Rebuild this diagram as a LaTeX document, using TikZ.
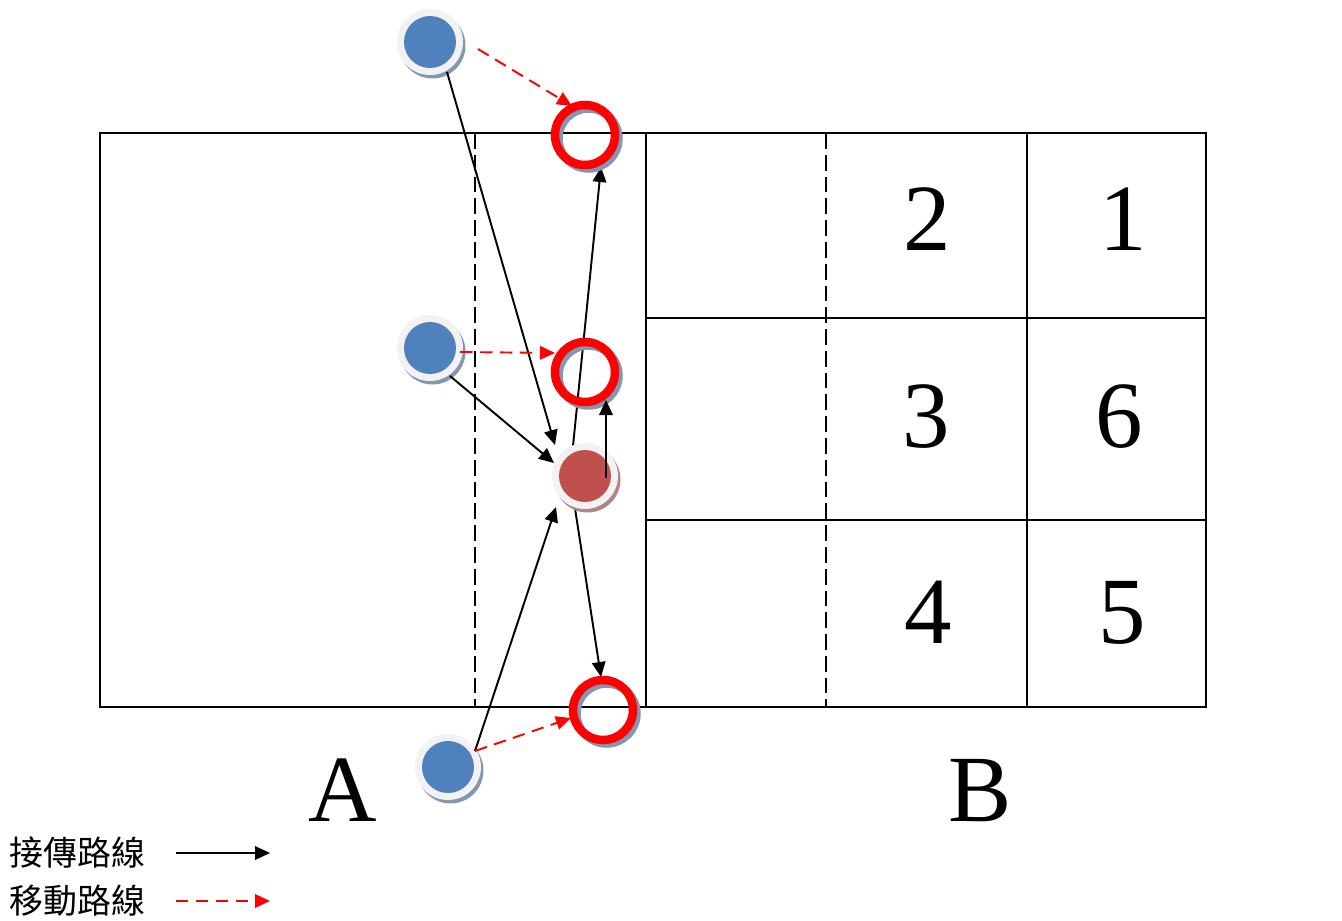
\documentclass[tikz,border=0pt]{standalone}
\usepackage{fontspec}
\setmainfont{Liberation Serif}
\newfontfamily\cjk{Noto Sans CJK TC}
\usetikzlibrary{arrows.meta,shadows,backgrounds}
\definecolor{playerblue}{RGB}{79,129,189}
\definecolor{playerred}{RGB}{192,80,77}
\definecolor{ringgray}{RGB}{242,242,242}
\definecolor{shadowblue}{RGB}{132,151,176}
\definecolor{shadowred}{RGB}{176,134,133}
\definecolor{ringred}{RGB}{255,0,0}
\tikzset{
  court/.style={line width=1.1pt, black},
  courtdash/.style={line width=1.1pt, black, dash pattern=on 9pt off 3.4pt},
  blueplayer/.style={circle, inner sep=0pt, outer sep=0pt, minimum size=1.32cm, fill=ringgray,
    drop shadow={shadow xshift=0.05cm, shadow yshift=-0.07cm, fill=shadowblue, opacity=1},
    path picture={\fill[playerblue] (path picture bounding box.center) circle (0.52cm);}},
  redplayer/.style={circle, inner sep=0pt, outer sep=0pt, minimum size=1.32cm, fill=ringgray,
    drop shadow={shadow xshift=0.05cm, shadow yshift=-0.07cm, fill=shadowred, opacity=1},
    path picture={\fill[playerred] (path picture bounding box.center) circle (0.52cm);}},
  target/.style={circle, inner sep=0pt, minimum size=1.2cm, draw=ringred, line width=0.17cm,
    general shadow={shadow xshift=0.07cm, shadow yshift=-0.07cm, draw=shadowblue, fill=none, line width=0.17cm, opacity=1}},
  pass/.style={-{Triangle[length=0.3cm,width=0.27cm]}, line width=1.1pt, black},
  move/.style={-{Triangle[length=0.3cm,width=0.27cm]}, line width=1.1pt, ringred, dash pattern=on 0.25cm off 0.15cm},
  num/.style={font=\fontsize{54}{60}\selectfont, anchor=base, inner sep=0pt},
  legend/.style={font=\cjk\fontsize{19.3}{23}\selectfont, anchor=west, inner sep=0pt},
}
\begin{document}
\begin{tikzpicture}[x=0.02cm,y=-0.02cm]
\useasboundingbox (0,0) rectangle (1342,920);
% court
\begin{pgfonlayer}{background}
\draw[court] (100,133) rectangle (1206,707);
\draw[court] (646,133) -- (646,707);
\draw[court] (1027,133) -- (1027,707);
\draw[court] (646,318) -- (1206,318);
\draw[court] (646,520) -- (1206,520);
\draw[courtdash] (475,133) -- (475,707);
\draw[courtdash] (826,133) -- (826,707);
\end{pgfonlayer}
% numbers and labels
\node[num] (n2) at (927,250) {2};
\node[num] (n1) at (1123,250) {1};
\node[num] (n3) at (926,447) {3};
\node[num] (n6) at (1119,447) {6};
\node[num] (n4) at (928,643) {4};
\node[num] (n5) at (1122,643) {5};
\node[num] (la) at (343,821) {A};
\node[num] (lb) at (980,821) {B};
% targets
\node[target] (r1) at (585,135) {};
\node[target] (r2) at (585,372) {};
\node[target] (r3) at (603,710) {};
% players
\node[blueplayer] (b1) at (430,42) {};
\node[blueplayer] (b2) at (430,348) {};
\node[blueplayer] (b3) at (448,767) {};
\node[redplayer] (ball) at (585,476) {};
% lines behind the setter
\begin{pgfonlayer}{background}
\draw[pass] ([shift={(-15,0)}]ball.center) -- ([shift={(16,32)}]r1.center);
\draw[pass] ([shift={(-15,0)}]ball.center) -- ([shift={(-2,-33)}]r3.center);
\end{pgfonlayer}
% passing lines
\draw[pass] ([shift={(17,30)}]b1.center) -- ([shift={(-30,-31)}]ball.center);
\draw[pass] ([shift={(20,28)}]b2.center) -- ([shift={(-31,-13)}]ball.center);
\draw[pass] ([shift={(27,-16)}]b3.center) -- ([shift={(-29,31)}]ball.center);
\draw[pass] ([shift={(21,2)}]ball.center) -- ([shift={(21,28)}]r2.center);
% moving lines
\draw[move] ([shift={(48,7)}]b1.center) -- ([shift={(-13,-29)}]r1.center);
\draw[move] ([shift={(30,4)}]b2.center) -- ([shift={(-30,-19)}]r2.center);
\draw[move] ([shift={(27,-16)}]b3.center) -- ([shift={(-32,8)}]r3.center);
% legend
\node[legend] (t1) at (9,853) {接傳路線};
\node[legend] (t2) at (9,901) {移動路線};
\coordinate (p1s) at (176,853);
\coordinate (p1e) at (270,853);
\coordinate (p2s) at (176,901);
\coordinate (p2e) at (270,901);
\draw[pass] (p1s) -- (p1e);
\draw[move] (p2s) -- (p2e);
\end{tikzpicture}
\end{document}
